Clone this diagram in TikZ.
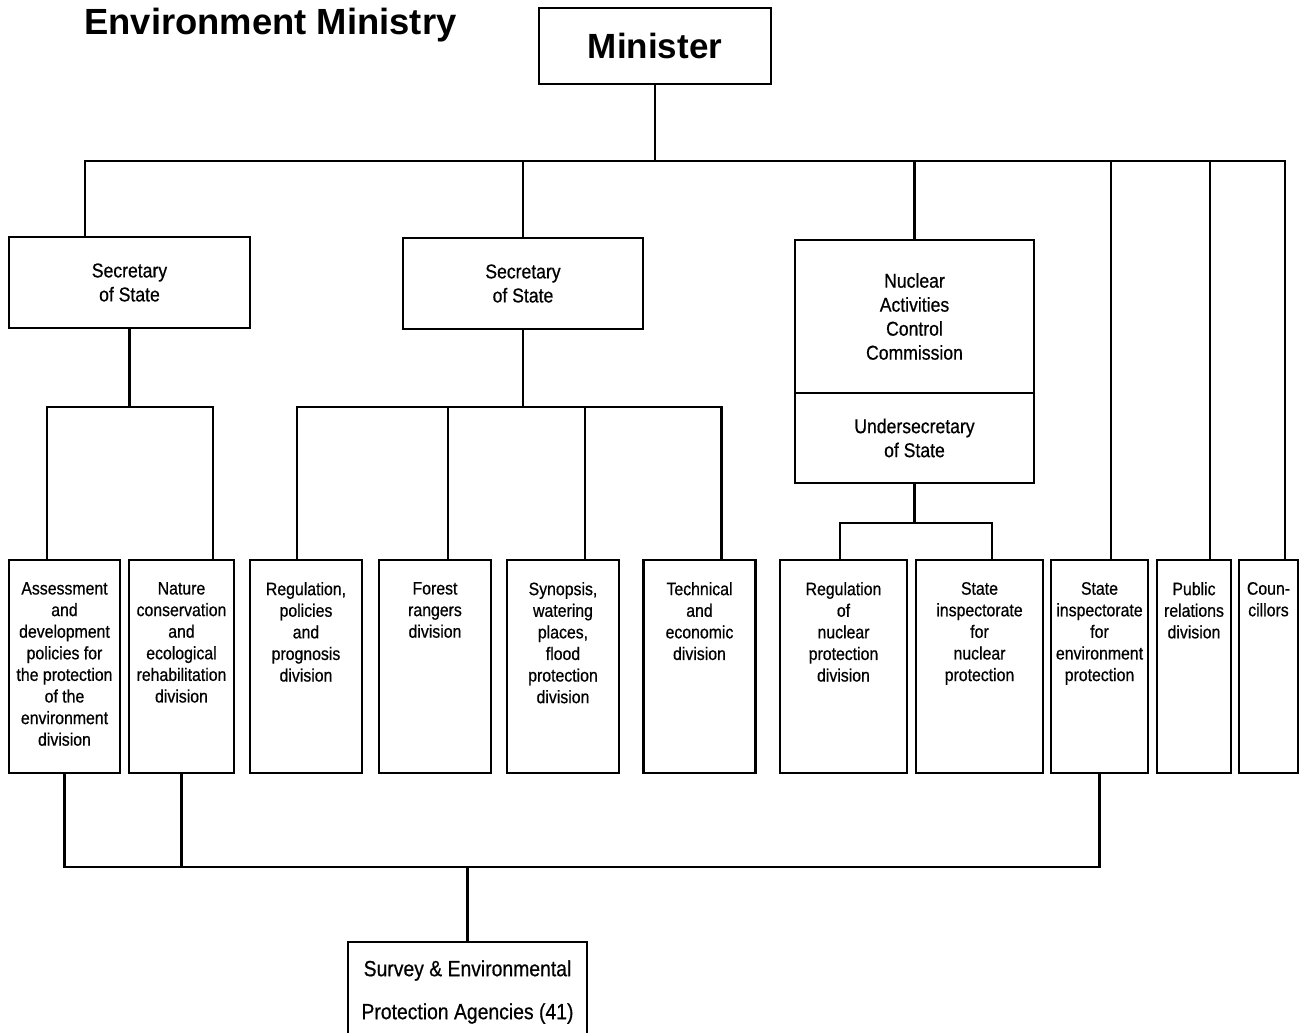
\documentclass[tikz,border=0pt]{standalone}
\usepackage{fontspec}
\setmainfont{Liberation Sans}
\newfontfamily\narrowsf[FakeStretch=0.88,FakeBold=0.6]{Liberation Sans}

\tikzset{
  box/.style={draw,line width=1.3pt,inner sep=0,align=center},
  link/.style={line width=1.3pt},
  headtxt/.style={font=\narrowsf\fontsize{10}{12}\selectfont},
  divtxt/.style={anchor=north,inner sep=0,align=center,yshift=-11.5pt,
    font=\narrowsf\fontsize{9}{10.8}\selectfont},
}

\begin{document}
\begin{tikzpicture}[x=.5pt,y=-.5pt]
\useasboundingbox (0,0) rectangle (1302,1033);
\node[anchor=base west,inner sep=0,font=\bfseries\fontsize{18.2}{20}\selectfont] (title) at (84,34) {Environment Ministry};
\node[box,minimum width=116pt,minimum height=38pt,font=\bfseries\fontsize{17.5}{20}\selectfont] (minister) at (655,46) {Minister};

% upper level
\node[box,headtxt,minimum width=120.5pt,minimum height=45.5pt] (sec1) at (129.5,282.5) {Secretary\\of State};
\node[box,headtxt,minimum width=120pt,minimum height=45.5pt] (sec2) at (523,283.5) {Secretary\\of State};
\node[box,headtxt,minimum width=119.5pt,minimum height=76.5pt] (nuc) at (914.5,316.5) {Nuclear\\Activities\\Control\\Commission};
\node[box,headtxt,minimum width=119.5pt,minimum height=45pt] (under) at (914.5,438) {Undersecretary\\of State};

% divisions
\foreach \nm/\cx/\bw/\lbl in {
  assess/64.5/111/{Assessment\\and\\development\\policies for\\the protection\\of the\\environment\\division},
  nature/181.5/105/{Nature\\conservation\\and\\ecological\\rehabilitation\\division},
  regul/306/112/{Regulation,\\policies\\and\\prognosis\\division},
  forest/435/112/{Forest\\rangers\\division},
  synop/563/112/{Synopsis,\\watering\\places,\\flood\\protection\\division},
  techn/699.5/112/{Technical\\and\\economic\\division},
  regnuc/843.5/127/{Regulation\\of\\nuclear\\protection\\division},
  inspnuc/979.5/127/{State\\inspectorate\\for\\nuclear\\protection},
  inspenv/1099.5/97/{State\\inspectorate\\for\\environment\\protection},
  public/1194/74/{Public\\relations\\division},
  counc/1268.5/59/{Coun-\\cillors}}
  \node[box,minimum width=\bw*.5pt,minimum height=106.5pt,label={[divtxt]north:\lbl}] (\nm) at (\cx,666.5) {};

\node[box,minimum width=119.5pt,minimum height=50pt,font=\narrowsf\fontsize{11}{21.5}\selectfont] (agency) at (467.5,992) {Survey \& Environmental\\Protection Agencies (41)};

% connectors
\coordinate (top) at (655,161);
\draw[link] (minister) -- (top);
\draw[link] ([xshift=-22.25pt]sec1.north) |- (top) -| ([xshift=8.25pt]counc.north);
\draw[link] (sec2) -- (sec2 |- top);
\draw[link] (nuc) -- (nuc |- top);
\foreach \nm/\dx in {inspenv/5.75pt,public/8pt}
  \draw[link] ([xshift=\dx]\nm.north) -- ([xshift=\dx]\nm.north |- top);

\coordinate (s1) at (129.5,407);
\draw[link] (sec1) -- (s1);
\draw[link] ([xshift=-8.75pt]assess.north) |- (s1) -| ([xshift=15.75pt]nature.north);

\coordinate (s2) at (523,407);
\draw[link] (sec2) -- (s2);
\draw[link] ([xshift=-4.5pt]regul.north) |- (s2) -| ([xshift=11pt]techn.north);
\foreach \nm/\dx in {forest/6.5pt,synop/11pt}
  \draw[link] ([xshift=\dx]\nm.north) -- ([xshift=\dx]\nm.north |- s2);

\coordinate (s3) at (914.5,523);
\draw[link] (under) -- (s3);
\draw[link] ([xshift=-1.75pt]regnuc.north) |- (s3) -| ([xshift=6.25pt]inspnuc.north);

\coordinate (s4) at (467.5,867);
\draw[link] (assess.south) |- (s4) -| (inspenv.south);
\draw[link] (nature.south) -- (nature.south |- s4);
\draw[link] (s4) -- (agency);
\end{tikzpicture}
\end{document}
